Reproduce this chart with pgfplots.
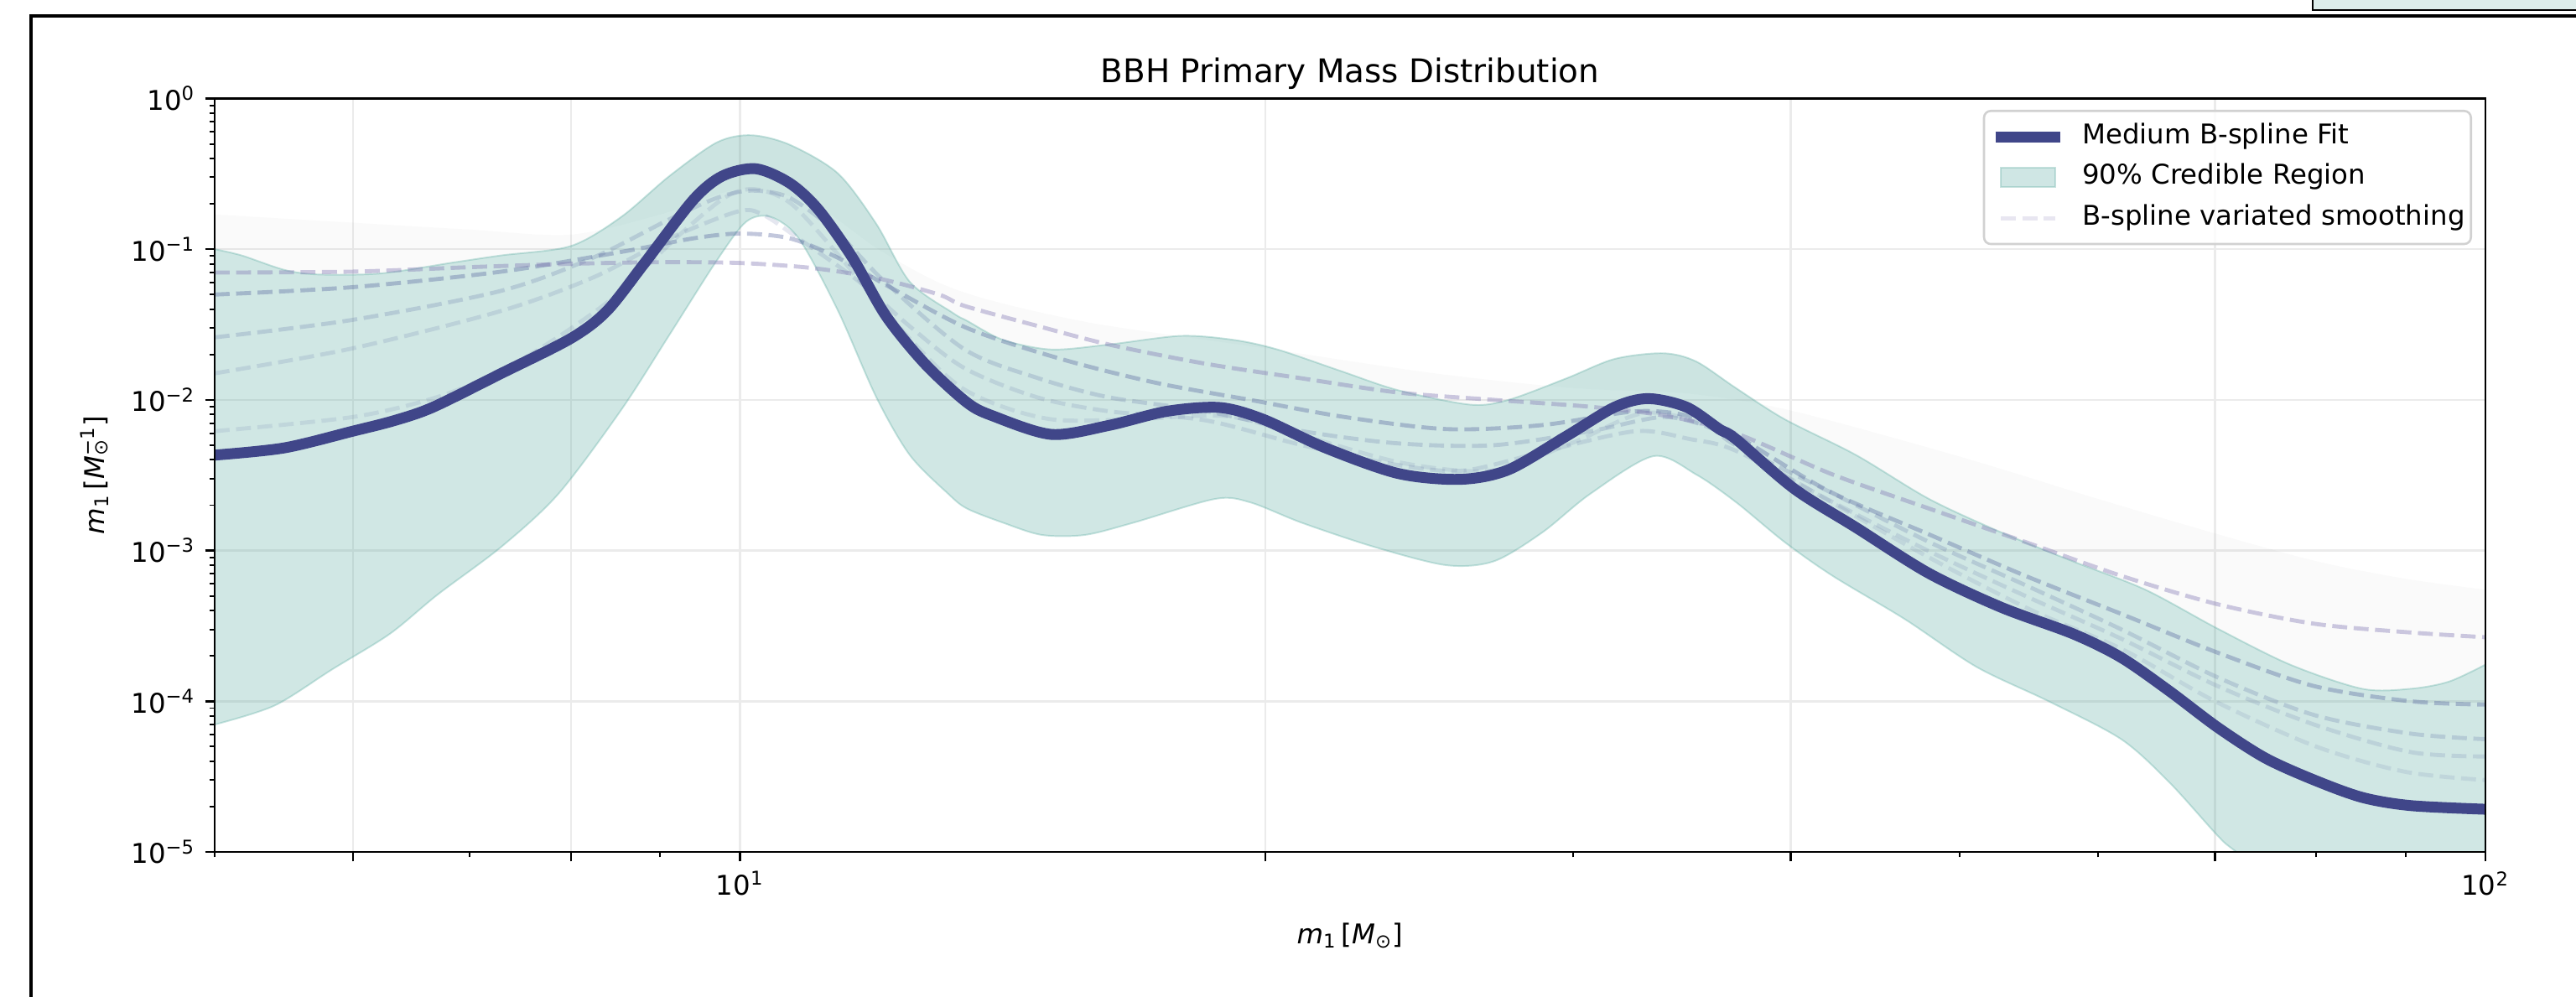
\documentclass[border=0pt]{standalone}
\usepackage{pgfplots}
\pgfplotsset{compat=1.18}
\usepgfplotslibrary{fillbetween}
\usepackage{pgfplotstable}
\usepackage{fontspec}
\setmainfont{DejaVu Sans}
\definecolor{mainc}{RGB}{64,70,137}
\definecolor{tealc}{RGB}{98,175,165}
\definecolor{dashA}{RGB}{130,120,180}
\definecolor{dashB}{RGB}{80,95,155}
\definecolor{artc}{RGB}{221,237,235}

\pgfplotstableread{
x y
5.0 4.3e-3
5.48 4.8e-3
6.0 6.2e-3
6.34 7.3e-3
6.67 8.95e-3
7.3 0.0150
8.0 0.0256
8.39 0.039
8.82 0.0814
9.40 0.212
9.77 0.306
10.21 0.342
10.68 0.274
11.09 0.183
11.6 0.0877
12.12 0.0362
12.76 0.0174
13.49 0.0096
13.97 0.0078
15.08 0.0059
16.27 0.00677
17.56 0.0084
18.83 0.0089
19.93 0.00745
21.65 0.0048
23.82 0.00325
25.86 0.00297
27.56 0.00344
29.75 0.00575
31.7 0.00895
33.14 0.0102
34.86 0.00895
36.4 0.0064
37.2 0.0055
40.2 0.00256
43.6 0.00142
47.98 7.07e-4
52.8 4.2e-4
58.05 2.8e-4
61.85 1.95e-4
65.9 1.17e-4
70.25 6.7e-5
74.8 4.2e-5
79.8 3.0e-5
85 2.3e-5
90.6 2.03e-5
100 1.92e-5
}\tMain

\pgfplotstableread{
x y
5.0 0.100
5.18 0.091
5.48 0.073
5.73 0.068
6.22 0.069
6.84 0.0814
7.3 0.091
8.0 0.105
8.55 0.164
9.11 0.306
9.70 0.512
10.15 0.571
10.68 0.493
11.38 0.318
11.97 0.147
12.51 0.0607
13.25 0.0376
13.49 0.0335
14.15 0.025
15.08 0.0216
16.27 0.0233
17.89 0.0266
19.19 0.025
20.32 0.0216
22.07 0.0156
23.82 0.0116
26.2 0.0093
27.56 0.0100
29.75 0.0139
31.7 0.0187
33.8 0.0204
35.3 0.0180
37.2 0.0120
39.67 0.00745
43.6 0.0043
48.0 0.0022
52.8 0.00132
58.0 8.5e-4
63.85 5.5e-4
70.25 3.03e-4
77.3 1.75e-4
85 1.21e-4
90.6 1.21e-4
95.3 1.35e-4
100 1.75e-4
}\tUp

\pgfplotstableread{
x y
5.0 7e-5
5.41 9.35e-5
5.84 1.63e-4
6.30 2.8e-4
6.71 5.1e-4
7.3 1.06e-3
7.87 2.38e-3
8.55 8.6e-3
9.11 0.027
9.70 0.0845
10.08 0.152
10.41 0.164
10.81 0.117
11.38 0.039
11.97 0.0104
12.51 0.0043
13.16 0.00238
13.49 0.0019
14.15 0.00153
14.89 0.00127
15.76 0.00127
16.8 0.00153
18.71 0.0022
19.6 0.00209
20.98 0.00153
23.07 0.00106
25.38 8.0e-4
27.04 8.5e-4
28.82 0.00132
30.7 0.00238
33.36 0.00423
35.3 0.0032
37.2 0.0021
39.67 0.00114
42.26 6.8e-4
46.5 3.5e-4
51.1 1.69e-4
56.2 1.0e-4
61.85 5.6e-5
65.9 2.9e-5
70.25 1.28e-5
72.0 1.0e-5
80 4e-6
90 1.5e-6
100 6e-7
}\tLo

\pgfplotstableread{
x y
5 0.17
6 0.15
7 0.135
8 0.125
9 0.17
10 0.25
11 0.2
12 0.1
13 0.06
14 0.045
16 0.032
20 0.022
25 0.015
30 0.012
35 0.011
40 0.0085
50 0.0042
60 0.0022
70 0.0013
80 8.5e-4
90 6.5e-4
100 5.5e-4
}\tGray

\pgfplotstableread{
x y
5 0.070
6 0.071
7 0.076
8 0.080
9 0.082
10 0.081
11 0.075
12 0.064
13 0.050
13.45 0.042
14.8 0.031
16.27 0.0233
18.47 0.0174
20.98 0.0139
23.82 0.0112
27.04 0.0100
30.7 0.0090
34 0.0078
37.2 0.0060
42.26 0.0032
48 0.0019
54.5 0.00114
61.85 6.8e-4
70.25 4.4e-4
79.8 3.27e-4
90.6 2.86e-4
100 2.66e-4
}\tDa

\pgfplotstableread{
x y
5 0.050
6 0.056
7.3 0.071
8.55 0.096
9.4 0.118
10 0.127
10.68 0.118
11.38 0.0877
12.12 0.058
13.49 0.030
15.27 0.0187
17.3 0.013
19.6 0.010
22.2 0.0077
25.4 0.0064
28.8 0.0068
32.6 0.0084
35 0.0078
37.2 0.0058
42 0.0025
48 0.00128
54.5 6.8e-4
61.85 3.8e-4
70.25 2.1e-4
79.8 1.26e-4
90.6 1.0e-4
100 9.5e-5
}\tDb

\pgfplotstableread{
x y
5 0.026
6 0.034
7.3 0.053
8.24 0.088
9.11 0.158
9.7 0.219
10.15 0.245
10.68 0.219
11.38 0.127
12.1 0.061
13.45 0.0216
14.8 0.014
16.27 0.0104
18.5 0.0084
21 0.0062
23.8 0.00515
27 0.0050
30.7 0.0062
33.8 0.0077
36 0.0065
37.2 0.0050
42.26 0.0024
48 0.00114
54.5 5.9e-4
61.85 3.0e-4
70.25 1.44e-4
79.8 8.1e-5
90.6 6.1e-5
100 5.6e-5
}\tDc

\pgfplotstableread{
x y
5 0.015
6 0.022
7.3 0.039
8.24 0.065
9.11 0.118
9.97 0.178
10.3 0.17
10.8 0.118
11.7 0.061
12.5 0.031
13.45 0.0162
14.8 0.0104
16.27 0.0084
18.5 0.0073
21 0.0050
23.8 0.0037
26 0.0034
29 0.0046
32.6 0.0062
35 0.0055
37.2 0.0046
42.26 0.0021
48 9.9e-4
54.5 5.0e-4
61.85 2.6e-4
70.25 1.26e-4
79.8 7.0e-5
90.6 4.6e-5
100 4.3e-5
}\tDd

\pgfplotstableread{
x y
5 0.0062
6 0.0077
6.7 0.0104
7.3 0.0156
7.9 0.027
8.5 0.05
9.2 0.12
9.8 0.22
10.2 0.25
10.7 0.2
11.4 0.09
12.2 0.035
13.4 0.012
15 0.0075
17 0.0075
19 0.0078
21 0.0058
24 0.0038
27 0.0034
30 0.0052
33 0.0082
36 0.0065
40 0.0030
48 0.0009
55 0.0004
62 0.00022
70 0.0001
80 5e-5
90 3.4e-5
100 3e-5
}\tDe

\begin{document}
\begin{tikzpicture}
\begin{axis}[
  at={(79.01pt,53.09pt)}, anchor=south west,
  scale only axis, width=835.8pt, height=277.31pt,
  xmode=log, ymode=log,
  xmin=5, xmax=100, ymin=1e-5, ymax=1,
  xtick={6,8,10,20,40,70,100},
  xticklabels={,,10\textsuperscript{1},,,,10\textsuperscript{2}},
  minor xtick={5,7,9,30,50,60,80,90},
  ytick={1e-5,1e-4,1e-3,1e-2,1e-1,1},
  yticklabels={10\textsuperscript{−5},10\textsuperscript{−4},10\textsuperscript{−3},10\textsuperscript{−2},10\textsuperscript{−1},10\textsuperscript{0}},
  minor ytick={2e-5,3e-5,4e-5,5e-5,6e-5,7e-5,8e-5,9e-5,
               2e-4,3e-4,4e-4,5e-4,6e-4,7e-4,8e-4,9e-4,
               2e-3,3e-3,4e-3,5e-3,6e-3,7e-3,8e-3,9e-3,
               2e-2,3e-2,4e-2,5e-2,6e-2,7e-2,8e-2,9e-2,
               0.2,0.3,0.4,0.5,0.6,0.7,0.8,0.9},
  tick pos=left, tick align=outside,
  major tick length=3.5pt, minor tick length=2pt,
  every major tick/.style={black, line width=0.8pt},
  every minor tick/.style={black, line width=0.6pt},
  xmajorgrids, ymajorgrids,
  major grid style={black!8, line width=0.8pt},
  axis line style={line width=0.8pt},
  tick label style={font=\fontsize{10}{12}\selectfont},
  xticklabel style={inner sep=0pt},
  yticklabel style={inner sep=0pt},
  xticklabel shift=3.5pt,
  yticklabel shift=3.5pt,
  xlabel={\textit{m}\textsubscript{1}\,[\textit{M}\textsubscript{⊙}]},
  ylabel={\textit{m}\textsubscript{1}\,[\textit{M}\makebox[0pt][l]{\textsubscript{⊙}}\textsuperscript{−1}]},
  label style={font=\fontsize{10}{12}\selectfont},
  xlabel style={at={(axis description cs:0.5,-0.0934)}, anchor=north, inner sep=0pt},
  ylabel style={at={(axis description cs:-0.0465,0.5)}, anchor=south, inner sep=0pt},
  legend style={
    at={(axis description cs:0.9941,0.985)}, anchor=north east,
    draw=black!18, line width=0.8pt, rounded corners=2.5pt,
    fill=white, fill opacity=0.8, draw opacity=1, text opacity=1,
    inner xsep=2.2pt, inner ysep=4.5pt,
    font=\fontsize{10}{12}\selectfont,
    row sep=5pt,
    nodes={inner sep=0pt, text height=7.5pt, text depth=2.5pt},
    /tikz/every odd column/.append style={column sep=6pt},
  },
  legend cell align=left,
]
% faint envelope and credible band
\addplot[name path=up, tealc, draw opacity=0.35, line width=0.6pt, smooth, forget plot] table {\tUp};
\addplot[name path=lo, tealc, draw opacity=0.35, line width=0.6pt, smooth, forget plot] table {\tLo};
\addplot[name path=gup, draw=none, smooth, forget plot] table {\tGray};
\addplot[black, fill opacity=0.02, forget plot] fill between[of=gup and up];
\addplot[tealc, fill opacity=0.3, forget plot] fill between[of=up and lo];
% variated smoothing curves
\addplot[dashB, opacity=0.12, line width=1.5pt, dash pattern=on 5.5pt off 2.4pt, smooth, forget plot] table {\tDe};
\addplot[dashB, opacity=0.15, line width=1.5pt, dash pattern=on 5.5pt off 2.4pt, smooth, forget plot] table {\tDd};
\addplot[dashB, opacity=0.2, line width=1.5pt, dash pattern=on 5.5pt off 2.4pt, smooth, forget plot] table {\tDc};
\addplot[dashB, opacity=0.35, line width=1.5pt, dash pattern=on 5.5pt off 2.4pt, smooth, forget plot] table {\tDb};
\addplot[dashA, opacity=0.4, line width=1.5pt, dash pattern=on 5.5pt off 2.4pt, smooth, forget plot] table {\tDa};
% main fit
\addplot[mainc, line width=4pt, smooth, forget plot] table {\tMain};
\draw[line width=0.8pt] (rel axis cs:0,0) rectangle (rel axis cs:1,1);
% legend
\addlegendimage{legend image code/.code={\path[draw=none,fill=none] (-2pt,-4pt) rectangle (22pt,4pt); \draw[mainc, line width=4pt, sharp corners, fill=none] (-2pt,0pt) -- (22pt,0pt);}}
\addlegendentry{Medium B-spline Fit}
\addlegendimage{legend image code/.code={\path[draw=none,fill=none] (-2pt,-4pt) rectangle (22pt,4pt); \fill[tealc, fill opacity=0.3, sharp corners, draw=none] (0pt,-3.6pt) rectangle (20pt,3.6pt); \draw[tealc, draw opacity=0.35, line width=0.6pt, sharp corners, fill=none] (0pt,-3.6pt) rectangle (20pt,3.6pt);}}
\addlegendentry{90\% Credible Region}
\addlegendimage{legend image code/.code={\path[draw=none,fill=none] (-2pt,-4pt) rectangle (22pt,4pt); \draw[dashA, draw opacity=0.18, line width=1.5pt, dash pattern=on 5.5pt off 2.4pt, fill=none] (0pt,0pt) -- (20pt,0pt);}}
\addlegendentry{B-spline variated smoothing}
\end{axis}
% title
\node[anchor=base, inner sep=0pt, font=\fontsize{12}{14}\selectfont] at (496.91pt,336.40pt) {BBH Primary Mass Distribution};
% screenshot frame
\draw[line width=1.4pt] (11.42pt,-5pt) -- (11.42pt,360.74pt) -- (960pt,360.74pt);
\fill[artc] (851.2pt,363.06pt) rectangle (960pt,372pt);
\draw[line width=0.6pt] (851.2pt,372pt) -- (851.2pt,363.06pt) -- (960pt,363.06pt);
\pgfresetboundingbox
\path[use as bounding box] (0,0) rectangle (948.15pt,366.67pt);
\end{tikzpicture}
\end{document}
